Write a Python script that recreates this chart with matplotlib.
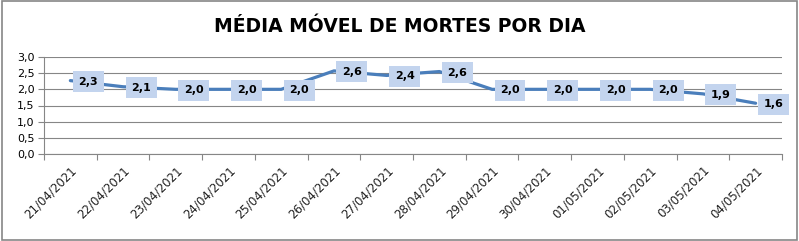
import matplotlib
matplotlib.use("Agg")
import matplotlib.pyplot as plt
from matplotlib.patches import Rectangle

# data
dates = ["21/04/2021", "22/04/2021", "23/04/2021", "24/04/2021", "25/04/2021",
         "26/04/2021", "27/04/2021", "28/04/2021", "29/04/2021", "30/04/2021",
         "01/05/2021", "02/05/2021", "03/05/2021", "04/05/2021"]
media = [2.27, 2.08, 2.0, 2.0, 2.0, 2.57, 2.43, 2.55, 2.0, 2.0, 2.0, 2.0, 1.86, 1.57]
rotulos = ["2,3", "2,1", "2,0", "2,0", "2,0", "2,6", "2,4", "2,6",
           "2,0", "2,0", "2,0", "2,0", "1,9", "1,6"]
yticks = [0.0, 0.5, 1.0, 1.5, 2.0, 2.5, 3.0]

fig = plt.figure(figsize=(7.99, 2.41), dpi=100)
ax = fig.add_axes([44 / 799, 1 - 154 / 241, (782 - 44) / 799, (154 - 57) / 241])

x = list(range(len(dates)))
ax.plot(x, media, color="#4a7ebb", lw=2.3, solid_capstyle="round", zorder=3)

# data labels sit just right of each point
for xi, yi, lab in zip(x, media, rotulos):
    ax.annotate(lab, (xi, yi), xytext=(18, -1), textcoords="offset pixels",
                ha="center", va="center", fontsize=8, fontweight="bold",
                color="black", zorder=4,
                bbox=dict(boxstyle="square,pad=0.5", fc="#c3d4ee", ec="none"))

ax.set_xlim(-0.5, len(dates) - 0.5)
ax.set_ylim(0, 3.0)
ax.set_yticks(yticks)
ax.set_yticklabels([f"{v:.1f}".replace(".", ",") for v in yticks], fontsize=8)
ax.yaxis.grid(True, color="#868686", lw=0.8)
ax.set_axisbelow(True)

ax.set_xticks([i - 0.5 for i in range(len(dates) + 1)], minor=False)
ax.set_xticklabels([])
ax.set_xticks(x, minor=True)
ax.set_xticklabels(dates, minor=True, rotation=45, ha="right",
                   rotation_mode="anchor", fontsize=8.5, color="#222222")
ax.tick_params(axis="x", which="major", length=4, color="#868686")
ax.tick_params(axis="x", which="minor", length=0, pad=7)
ax.tick_params(axis="y", length=4, color="#868686", pad=3)

for s in ["top", "right"]:
    ax.spines[s].set_visible(False)
for s in ["left", "bottom"]:
    ax.spines[s].set_color("#868686")

fig.text(0.5, 1 - 27 / 241, "MÉDIA MÓVEL DE MORTES POR DIA", ha="center",
         va="center", fontsize=13.5, fontweight="bold")

fig.patches.append(Rectangle((0.002, 0.004), 0.995, 0.99, transform=fig.transFigure,
                             fill=False, ec="#868686", lw=1.2))

fig.savefig("out.png", dpi=100)
